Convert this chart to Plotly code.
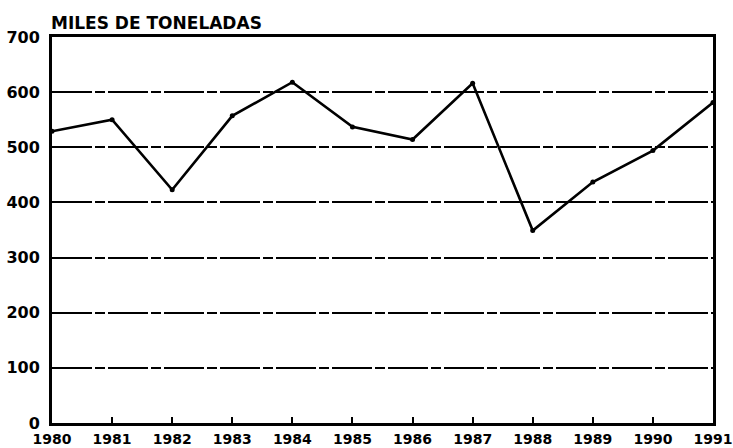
import plotly.graph_objects as go

years = list(range(1980, 1992))
values = [529, 550, 423, 557, 618, 537, 514, 616, 349, 437, 494, 581]
y_ticks = [0, 100, 200, 300, 400, 500, 600, 700]
title_text = "MILES DE TONELADAS"

FONT = "DejaVu Sans"

fig = go.Figure()
fig.add_trace(go.Scatter(
    x=years, y=values, mode="lines+markers",
    line=dict(color="black", width=2.6),
    marker=dict(color="black", size=5),
    showlegend=False, cliponaxis=False,
))

fig.update_layout(
    width=733, height=448,
    margin=dict(l=52, r=20, t=37, b=25, autoexpand=False),
    paper_bgcolor="white", plot_bgcolor="white",
    font=dict(family=FONT, color="black", size=16, weight="bold"),
    annotations=[dict(
        text=title_text, xref="paper", yref="paper", x=0, y=1,
        xanchor="left", yanchor="bottom", yshift=2, xshift=-3, showarrow=False,
        font=dict(family=FONT, size=17, color="black", weight="bold"),
    )],
)
fig.update_xaxes(
    range=[1980, 1991], tickvals=years, ticktext=[str(y) for y in years],
    showgrid=False, zeroline=False, automargin=False,
    showline=True, linecolor="black", linewidth=3, mirror=True,
    ticks="inside", ticklen=6, tickwidth=2, tickcolor="black",
    ticklabeloverflow="allow", ticklabelstandoff=1,
    tickfont=dict(family=FONT, size=14, weight="bold"),
)
fig.update_yaxes(
    range=[0, 700], tickvals=y_ticks, automargin=False,
    showgrid=True, gridcolor="black", gridwidth=1.6, griddash="40px,3px,10px,3px",
    zeroline=False,
    showline=True, linecolor="black", linewidth=3, mirror=True,
    ticks="", ticklabelstandoff=6,
    tickfont=dict(family=FONT, size=16, weight="bold"),
)

fig.write_html(
    "out.html",
    config={"displayModeBar": False},
    post_script="document.body.style.margin='0';document.body.style.overflow='hidden';",
)
